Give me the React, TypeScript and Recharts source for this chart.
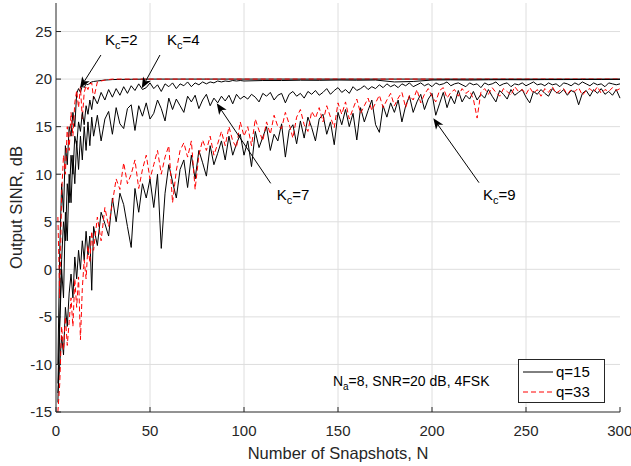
import React from 'react';
import { LineChart, Line, XAxis, YAxis, Legend, ReferenceLine, ReferenceDot } from 'recharts';

const FONT = '"Liberation Sans", Arial, Helvetica, sans-serif';

// snapshot grids (N) for the different curves
const nK2 = [1, 2, 3, 4, 5, 6, 7, 8, 9, 10, 11, 12, 13, 14, 15, 16, 17, 18, 19, 20,
  22, 24, 26, 28, 30, 35, 40, 50, 60, 80, 100, 150, 200, 250, 300];

const nK4 = [1, 2, 3, 4, 5, 6, 7, 8, 9, 10, 11, 12, 13, 14, 15, 16, 17, 18, 19, 20,
  22, 24, 26, 28, 30, 32, 34, 36, 38, 40, 42, 44, 46, 48, 50, 52, 54, 56, 58, 60,
  62, 64, 66, 68, 70, 72, 74, 76, 78, 80, 82, 84, 86, 88, 90, 92, 94, 96, 98, 100,
  110, 120, 130, 140, 150, 160, 170, 180, 190, 200, 210, 220, 230, 240, 250, 260, 270, 280, 290, 300];

const nDense = [1, 2, 3, 4, 5, 6, 7, 8, 9, 10, 11, 12, 13, 14, 15, 16, 17, 18, 19, 20,
  22, 24, 26, 28, 30, 32, 34, 36, 38, 40, 42, 44, 46, 48, 50, 52, 54, 56, 58, 60,
  62, 64, 66, 68, 70, 72, 74, 76, 78, 80, 82, 84, 86, 88, 90, 92, 94, 96, 98, 100,
  102, 104, 106, 108, 110, 112, 114, 116, 118, 120, 122, 124, 126, 128, 130, 132, 134, 136, 138, 140,
  142, 144, 146, 148, 150, 152, 154, 156, 158, 160, 162, 164, 166, 168, 170, 172, 174, 176, 178, 180,
  182, 184, 186, 188, 190, 192, 194, 196, 198, 200, 202, 204, 206, 208, 210, 212, 214, 216, 218, 220,
  222, 224, 226, 228, 230, 232, 234, 236, 238, 240, 242, 244, 246, 248, 250, 252, 254, 256, 258, 260,
  262, 264, 266, 268, 270, 272, 274, 276, 278, 280, 282, 284, 286, 288, 290, 292, 294, 296, 298, 300];

// output SINR (dB)
const k2q15 = [-10, 2, 9, 6, 13, 11, 15, 14, 16.5, 15, 18.5, 19.0, 18.6, 19.3, 19.1, 19.5, 19.4, 19.6, 19.7, 19.75,
  19.8, 19.85, 19.9, 19.92, 19.95, 19.97, 19.98, 20, 20, 20, 20, 20, 20, 20, 20];

const k2q33 = [5.5, -3, 8, 12, 10, 15, 12.5, 16.5, 14, 17.5, 18.8, 17, 19.2, 15.8, 18.6, 19.3, 18.9, 19.5, 19.6, 17.9,
  19.7, 19.8, 19.9, 19.95, 20, 20, 20, 20, 20, 20, 20, 20, 20, 20, 20];

const k4q15 = [-12, -5, 1, 5, 3, 9, 7, 12, 10, 14, 13, 15.5, 14.5, 16.5, 15.2, 17.2, 16.3, 17.8, 16.8, 18.2,
  17.4, 18.6, 17.8, 18.9, 18.1, 19.0, 18.3, 19.2, 18.5, 19.3, 18.8, 19.5, 18.9, 19.1, 19.6, 19.0, 19.4, 18.7, 19.5, 19.2,
  19.6, 19.0, 19.5, 19.3, 19.7, 19.2, 19.6, 19.4, 19.7, 19.5, 19.7, 19.6, 19.8, 19.7, 19.8, 19.75, 19.85, 19.8, 19.85, 19.8,
  19.85, 19.85, 19.88, 19.87, 19.9, 19.88, 19.9, 19.7, 19.75, 19.9, 19.92, 19.9, 19.93, 19.94, 19.93, 19.95, 19.95, 19.96, 19.96, 19.97];

const k7q15 = [-14, -6, 0, -3, 6, 3, 10, 7, 12, 9,
  13.5, 10.5, 14, 11.5, 15, 12.5, 15.5, 13, 16, 14,
  16.2, 13.5, 15.8, 16.6, 14.2, 17.0, 15.3, 14.8, 16.9, 17.3,
  14.6, 17.2, 16.1, 17.5, 15.8, 16.4, 17.8, 16.9, 15.6, 18.0,
  16.8, 17.9, 17.2, 16.5, 18.2, 17.6, 18.3, 16.9, 17.8, 18.4,
  17.2, 18.0, 17.5, 18.2, 17.7, 18.3, 17.4, 18.4, 17.9, 18.2,
  17.9, 18.4, 18.1, 17.6, 18.5, 18.2, 18.6, 17.8, 18.3, 18.5,
  17.5, 18.4, 18.7, 18.2, 18.5, 18.0, 18.7, 18.4, 18.8, 18.3,
  18.6, 19.0, 18.4, 18.8, 19.1, 18.6, 18.9, 18.5, 19.2, 18.8,
  19.0, 19.3, 18.9, 19.2, 19.0, 19.4, 19.1, 19.5, 19.2, 19.4,
  19.1, 19.5, 19.3, 19.6, 19.2, 19.4, 19.6, 19.3, 19.5, 19.2,
  19.6, 19.4, 19.5, 19.7, 19.3, 19.5, 19.6, 19.4, 19.2, 19.6,
  19.4, 19.5, 19.1, 19.6, 19.4, 19.5, 19.7, 19.3, 19.5, 19.6,
  19.2, 19.5, 19.4, 19.6, 19.3, 19.5, 19.7, 19.4, 19.5, 19.3,
  19.6, 19.4, 19.5, 19.2, 19.6, 19.5, 19.3, 19.6, 19.4, 19.7,
  19.5, 19.3, 19.6, 19.4, 19.5, 19.2, 19.6, 19.5, 19.4, 19.5];

const k9q15 = [-13, -10, -7, -9, -4, -6, -2.5, -0.5, -3, 1.3,
  -1, 2, 0, 3, 1, 4, 1.5, 3.5, -2.2, 4.5,
  2.5, 6.0, 4.8, 3.5, 7.5, 5.0, 8.0, 6.8, 4.5, 2.3,
  8.5, 6.0, 9.0, 7.5, 9.5, 6.5, 10.0, 2.2, 8.0, 11.0,
  9.2, 7.5, 10.5, 11.5, 8.6, 12.0, 9.5, 12.5, 11.2, 9.8,
  13.0, 11.0, 12.2, 13.5, 11.5, 14.0, 12.0, 13.2, 14.2, 12.0,
  13.5, 10.8, 14.5, 12.8, 13.9, 15.0, 12.5, 14.2, 13.5, 15.3,
  11.8, 14.6, 15.2, 13.2, 15.6, 13.8, 16.0, 14.9, 13.5, 15.8,
  16.3, 14.2, 15.5, 13.1, 16.5, 15.2, 16.8, 15.0, 16.4, 13.6,
  17.0, 15.5, 16.7, 17.8, 15.2, 14.4, 17.2, 16.0, 17.5, 16.5,
  17.8, 15.5, 17.2, 18.2, 16.5, 17.6, 18.4, 16.8, 17.9, 18.5,
  16.2, 17.4, 18.6, 17.0, 18.2, 17.4, 18.8, 17.6, 18.3, 17.9,
  18.7, 17.8, 18.4, 18.0, 18.9, 18.2, 17.6, 18.8, 18.4, 17.9,
  18.9, 18.3, 18.6, 18.9, 18.1, 17.5, 18.7, 18.4, 18.9, 18.5,
  18.2, 19.0, 18.6, 18.5, 18.9, 18.3, 18.8, 18.6, 17.3, 18.5,
  18.8, 18.2, 18.9, 18.5, 19.0, 18.4, 18.7, 18.3, 18.9, 18.0];

const k9q33 = [-15, -12, -6, -8.5, -5, -8, -5.5, -3, -6, -1,
  -4, -0.8, -7.4, -2, 1, -1, 2.5, 0.7, 4, 2,
  5.5, 3.0, 6.5, 4.5, 7.0, 9.5, 8.4, 11.2, 9.0, 10.0,
  11.5, 8.5, 10.5, 12.0, 9.5, 11.0, 12.5, 10.0, 11.8, 13.0,
  7.0, 10.4, 12.5, 13.3, 11.8, 13.5, 8.4, 12.0, 13.6, 12.5,
  14.0, 12.0, 13.2, 14.5, 13.0, 15.0, 13.5, 12.8, 15.5, 14.0,
  15.0, 13.0, 15.8, 14.6, 13.5, 15.5, 14.2, 16.2, 15.0, 14.8,
  16.5, 15.3, 13.8, 16.0, 16.8, 15.2, 14.5, 16.6, 15.9, 17.0,
  15.5, 17.2, 16.0, 14.9, 17.5, 16.3, 17.6, 15.8, 16.9, 17.9,
  16.4, 17.2, 18.0, 16.7, 17.5, 18.3, 17.0, 17.8, 18.5, 17.2,
  18.0, 18.6, 17.0, 18.3, 17.8, 18.9, 17.5, 18.4, 19.0, 18.2,
  17.6, 18.8, 19.1, 18.0, 18.6, 18.9, 18.2, 19.0, 18.5, 18.8,
  17.9, 15.9, 18.6, 19.0, 18.4, 19.1, 18.6, 18.2, 19.0, 18.7,
  18.3, 19.2, 18.7, 18.9, 18.4, 19.1, 18.5, 18.9, 18.2, 19.0,
  18.6, 19.2, 18.5, 18.8, 19.0, 18.4, 18.9, 18.7, 19.1, 18.3,
  18.8, 19.0, 18.6, 19.2, 18.5, 18.9, 18.7, 19.1, 18.8, 19.0];

const xTicks = [0, 50, 100, 150, 200, 250, 300];
const yTicks = [-15, -10, -5, 0, 5, 10, 15, 20, 25];

// arrow annotations, in data units (tail -> head)
const arrows = [
  { k: '2', tail: [23.9, 22.53], head: [12.8, 19.06], dx: 4, dy: -10 },
  { k: '4', tail: [55.3, 22.53], head: [45.6, 19.03], dx: 7, dy: -10 },
  { k: '7', tail: [114.2, 9.04], head: [85.5, 17.46], dx: 6, dy: 17 },
  { k: '9', tail: [225.0, 9.11], head: [200.7, 15.88], dx: 4, dy: 17 },
];

const legendItems = [
  { label: 'q=15', color: '#000000', dash: undefined as string | undefined },
  { label: 'q=33', color: '#ff0000', dash: '5 3' },
];

const GRID = '#dedede';

const pts = (ns: number[], vs: number[]) => ns.map((n, i) => ({ n, v: vs[i] }));

const ArrowShape = (props: any) => {
  const { x1, y1, x2, y2, k, dx, dy } = props;
  const ang = Math.atan2(y2 - y1, x2 - x1);
  const ux = Math.cos(ang);
  const uy = Math.sin(ang);
  const L = 11, W = 4.5, notch = 3;
  const bx = x2 - ux * L, by = y2 - uy * L;
  const nx = x2 - ux * (L - notch), ny = y2 - uy * (L - notch);
  const head = `${x2},${y2} ${bx - uy * W},${by + ux * W} ${nx},${ny} ${bx + uy * W},${by - ux * W}`;
  return (
    <g>
      <line x1={x1} y1={y1} x2={nx} y2={ny} stroke="#000" strokeWidth={1} />
      <polygon points={head} fill="#000" />
      <text x={x1 + dx} y={y1 + dy} fontFamily={FONT} fontSize={15} fill="#000">
        K<tspan dy={4} fontSize={11}>c</tspan><tspan dy={-4}>={k}</tspan>
      </text>
    </g>
  );
};

const NoteShape = (props: any) => (
  <text x={props.cx} y={props.cy} fontFamily={FONT} fontSize={14} fill="#000">
    N<tspan dy={4} fontSize={10}>a</tspan><tspan dy={-4}>=8, SNR=20 dB, 4FSK</tspan>
  </text>
);

const renderLegend = () => (
  <div style={{ width: 87, height: 44, boxSizing: 'border-box', border: '1px solid #262626', background: '#fff', fontFamily: FONT, fontSize: 15, color: '#000', paddingTop: 2 }}>
    {legendItems.map((it) => (
      <div key={it.label} style={{ display: 'flex', alignItems: 'center', height: 20 }}>
        <svg width={36} height={10} style={{ display: 'block' }}>
          <line x1={4} y1={5} x2={34} y2={5} stroke={it.color} strokeWidth={1} strokeDasharray={it.dash} />
        </svg>
        <span style={{ marginLeft: 1, lineHeight: '20px' }}>{it.label}</span>
      </div>
    ))}
  </div>
);

const tickStyle = { fill: '#262626', fontSize: 15, fontFamily: FONT };
const blank = () => '';

export default function App() {
  return (
    <div style={{ position: 'absolute', left: 0, top: 0, background: '#fff' }}>
      <LineChart width={631} height={466} margin={{ top: 3, right: 11, bottom: 0, left: 0 }}>
        {/* grid drawn as reference lines at the tick values */}
        {xTicks.slice(1, -1).map((t) => (
          <ReferenceLine key={`gx${t}`} x={t} stroke={GRID} strokeWidth={1} />
        ))}
        {yTicks.slice(1).map((t) => (
          <ReferenceLine key={`gy${t}`} y={t} stroke={GRID} strokeWidth={1} />
        ))}
        <XAxis dataKey="n" type="number" domain={[0, 300]} ticks={xTicks} height={54}
          stroke="#262626" tickSize={-5} tickMargin={18} tick={tickStyle}
          label={{ value: 'Number of Snapshots, N', position: 'insideBottom', offset: 7, fill: '#262626', fontSize: 16.5, fontFamily: FONT }} />
        <XAxis xAxisId="top" orientation="top" type="number" domain={[0, 300]} ticks={xTicks} height={0}
          stroke="#262626" tickSize={-5} tickFormatter={blank} />
        <YAxis type="number" domain={[-15, 28]} ticks={yTicks} width={56}
          stroke="#262626" tickSize={-5} tickMargin={9} tick={tickStyle}
          label={{ value: 'Output SINR, dB', angle: -90, position: 'insideLeft', offset: 16, style: { textAnchor: 'middle' }, fill: '#262626', fontSize: 16.5, fontFamily: FONT }} />
        <YAxis yAxisId="right" orientation="right" type="number" domain={[-15, 28]} ticks={yTicks} width={0}
          stroke="#262626" tickSize={-5} tickFormatter={blank} />

        <Line data={pts(nK2, k2q15)} dataKey="v" name="q=15" stroke="#000" strokeWidth={1} dot={false} activeDot={false} isAnimationActive={false} />
        <Line data={pts(nK2, k2q33)} dataKey="v" name="q=33" stroke="#ff0000" strokeWidth={1} strokeDasharray="5 3" dot={false} activeDot={false} isAnimationActive={false} />
        <Line data={pts(nK4, k4q15)} dataKey="v" legendType="none" stroke="#000" strokeWidth={1} dot={false} activeDot={false} isAnimationActive={false} />
        <Line data={pts(nDense, k7q15)} dataKey="v" legendType="none" stroke="#000" strokeWidth={1} dot={false} activeDot={false} isAnimationActive={false} />
        <Line data={pts(nDense, k9q15)} dataKey="v" legendType="none" stroke="#000" strokeWidth={1} dot={false} activeDot={false} isAnimationActive={false} />
        <Line data={pts(nDense, k9q33)} dataKey="v" legendType="none" stroke="#ff0000" strokeWidth={1} strokeDasharray="5 3" dot={false} activeDot={false} isAnimationActive={false} />

        {arrows.map((a) => (
          <ReferenceLine key={a.k}
            segment={[{ x: a.tail[0], y: a.tail[1] }, { x: a.head[0], y: a.head[1] }]}
            shape={(p: any) => <ArrowShape {...p} k={a.k} dx={a.dx} dy={a.dy} />} />
        ))}
        <ReferenceDot x={147.3} y={-12.27} r={0} shape={(p: any) => <NoteShape {...p} />} />

        <Legend content={renderLegend} layout="horizontal" verticalAlign="middle" align="center"
          wrapperStyle={{ left: 518, top: 359, width: 87, height: 44 }} />
      </LineChart>
    </div>
  );
}
